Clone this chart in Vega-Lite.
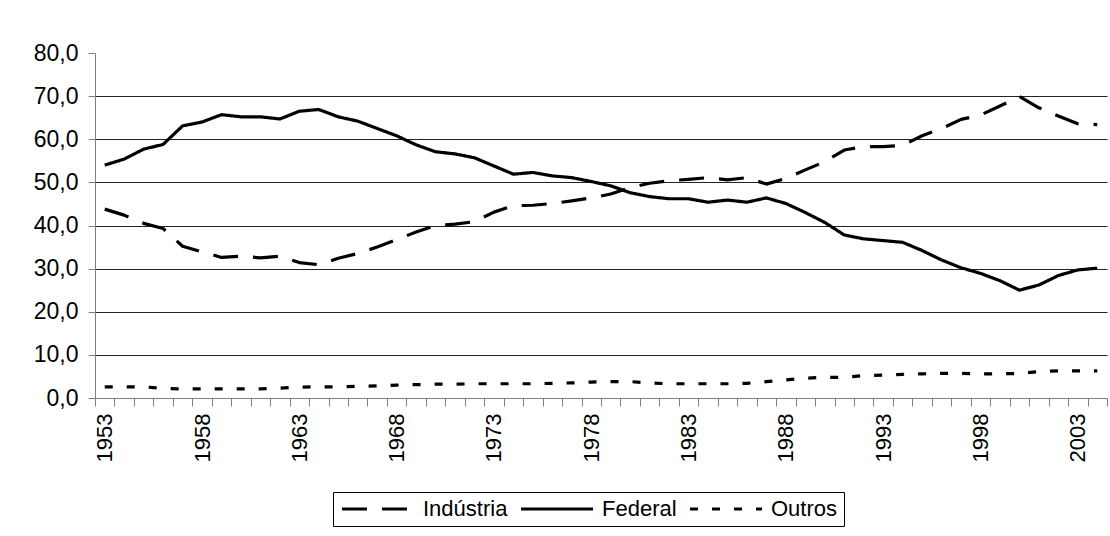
{
  "$schema": "https://vega.github.io/schema/vega-lite/v6.json",
  "autosize": {"type": "none"},
  "padding": {"left": 95, "top": 53, "right": 3, "bottom": 138},
  "width": 1012,
  "height": 345,
  "background": "white",
  "config": {
    "font": "Liberation Sans",
    "view": {"stroke": null},
    "axis": {"labelFont": "Liberation Sans", "labelColor": "black"}
  },
  "data": {
    "values": [
      {"ano": 1953, "Indústria": 43.8, "Federal": 54.0, "Outros": 2.6},
      {"ano": 1954, "Indústria": 42.4, "Federal": 55.4, "Outros": 2.6},
      {"ano": 1955, "Indústria": 40.5, "Federal": 57.7, "Outros": 2.6},
      {"ano": 1956, "Indústria": 39.3, "Federal": 58.8, "Outros": 2.2},
      {"ano": 1957, "Indústria": 35.2, "Federal": 63.1, "Outros": 2.1},
      {"ano": 1958, "Indústria": 33.9, "Federal": 64.0, "Outros": 2.1},
      {"ano": 1959, "Indústria": 32.6, "Federal": 65.7, "Outros": 2.1},
      {"ano": 1960, "Indústria": 32.9, "Federal": 65.2, "Outros": 2.1},
      {"ano": 1961, "Indústria": 32.5, "Federal": 65.2, "Outros": 2.1},
      {"ano": 1962, "Indústria": 32.9, "Federal": 64.7, "Outros": 2.3},
      {"ano": 1963, "Indústria": 31.4, "Federal": 66.5, "Outros": 2.5},
      {"ano": 1964, "Indústria": 30.9, "Federal": 66.9, "Outros": 2.6},
      {"ano": 1965, "Indústria": 32.4, "Federal": 65.2, "Outros": 2.6},
      {"ano": 1966, "Indústria": 33.5, "Federal": 64.2, "Outros": 2.7},
      {"ano": 1967, "Indústria": 35.0, "Federal": 62.5, "Outros": 2.8},
      {"ano": 1968, "Indústria": 36.7, "Federal": 60.8, "Outros": 3.0},
      {"ano": 1969, "Indústria": 38.5, "Federal": 58.7, "Outros": 3.1},
      {"ano": 1970, "Indústria": 40.0, "Federal": 57.1, "Outros": 3.2},
      {"ano": 1971, "Indústria": 40.3, "Federal": 56.6, "Outros": 3.2},
      {"ano": 1972, "Indústria": 40.9, "Federal": 55.7, "Outros": 3.3},
      {"ano": 1973, "Indústria": 43.1, "Federal": 53.8, "Outros": 3.3},
      {"ano": 1974, "Indústria": 44.6, "Federal": 51.9, "Outros": 3.3},
      {"ano": 1975, "Indústria": 44.7, "Federal": 52.3, "Outros": 3.3},
      {"ano": 1976, "Indústria": 45.1, "Federal": 51.5, "Outros": 3.4},
      {"ano": 1977, "Indústria": 45.7, "Federal": 51.1, "Outros": 3.5},
      {"ano": 1978, "Indústria": 46.4, "Federal": 50.2, "Outros": 3.7},
      {"ano": 1979, "Indústria": 47.3, "Federal": 49.2, "Outros": 3.8},
      {"ano": 1980, "Indústria": 48.8, "Federal": 47.6, "Outros": 3.8},
      {"ano": 1981, "Indústria": 49.8, "Federal": 46.7, "Outros": 3.5},
      {"ano": 1982, "Indústria": 50.4, "Federal": 46.2, "Outros": 3.3},
      {"ano": 1983, "Indústria": 50.7, "Federal": 46.2, "Outros": 3.3},
      {"ano": 1984, "Indústria": 51.1, "Federal": 45.4, "Outros": 3.3},
      {"ano": 1985, "Indústria": 50.6, "Federal": 45.9, "Outros": 3.3},
      {"ano": 1986, "Indústria": 51.1, "Federal": 45.4, "Outros": 3.4},
      {"ano": 1987, "Indústria": 49.6, "Federal": 46.4, "Outros": 3.8},
      {"ano": 1988, "Indústria": 50.9, "Federal": 45.1, "Outros": 4.2},
      {"ano": 1989, "Indústria": 52.9, "Federal": 43.0, "Outros": 4.6},
      {"ano": 1990, "Indústria": 54.8, "Federal": 40.7, "Outros": 4.8},
      {"ano": 1991, "Indústria": 57.5, "Federal": 37.8, "Outros": 4.8},
      {"ano": 1992, "Indústria": 58.3, "Federal": 36.9, "Outros": 5.2},
      {"ano": 1993, "Indústria": 58.3, "Federal": 36.5, "Outros": 5.3},
      {"ano": 1994, "Indústria": 58.6, "Federal": 36.1, "Outros": 5.5},
      {"ano": 1995, "Indústria": 60.8, "Federal": 34.2, "Outros": 5.6},
      {"ano": 1996, "Indústria": 62.5, "Federal": 32.0, "Outros": 5.7},
      {"ano": 1997, "Indústria": 64.6, "Federal": 30.2, "Outros": 5.7},
      {"ano": 1998, "Indústria": 65.6, "Federal": 28.9, "Outros": 5.6},
      {"ano": 1999, "Indústria": 67.7, "Federal": 27.2, "Outros": 5.6},
      {"ano": 2000, "Indústria": 69.9, "Federal": 25.0, "Outros": 5.7},
      {"ano": 2001, "Indústria": 67.3, "Federal": 26.2, "Outros": 6.1},
      {"ano": 2002, "Indústria": 65.4, "Federal": 28.4, "Outros": 6.3},
      {"ano": 2003, "Indústria": 63.6, "Federal": 29.7, "Outros": 6.3},
      {"ano": 2004, "Indústria": 63.4, "Federal": 30.1, "Outros": 6.3}
    ]
  },
  "transform": [
    {"fold": ["Indústria", "Federal", "Outros"], "as": ["serie", "valor"]}
  ],
  "mark": {"type": "line", "color": "black", "strokeWidth": 3.2, "strokeCap": "butt", "strokeJoin": "round"},
  "encoding": {
    "x": {
      "field": "ano",
      "type": "ordinal",
      "bandPosition": 0.5,
      "scale": {"type": "band", "paddingInner": 0, "paddingOuter": 0},
      "axis": {
        "title": null,
        "tickBand": "extent",
        "labelAngle": -90,
        "labelFontSize": 22,
        "labelExpr": "(datum.value - 1953) % 5 === 0 ? datum.label : ''",
        "domainColor": "#808080",
        "tickColor": "#808080",
        "tickSize": 8,
        "labelPadding": 7,
        "grid": false
      }
    },
    "y": {
      "field": "valor",
      "type": "quantitative",
      "scale": {"domain": [0, 80], "nice": false, "zero": true},
      "axis": {
        "title": null,
        "values": [0, 10, 20, 30, 40, 50, 60, 70, 80],
        "labelExpr": "replace(format(datum.value, '.1f'), '.', ',')",
        "labelFontSize": 23,
        "domainColor": "#808080",
        "tickColor": "#808080",
        "tickSize": 7,
        "labelPadding": 10,
        "grid": true,
        "gridColor": "#222222",
        "gridWidth": 1,
        "gridOpacity": {"condition": {"test": "datum.value === 80 || datum.value === 0", "value": 0}, "value": 1}
      }
    },
    "strokeDash": {
      "field": "serie",
      "type": "nominal",
      "scale": {
        "domain": ["Indústria", "Federal", "Outros"],
        "range": [[25, 15], [1, 0], [8, 14]]
      },
      "legend": {
        "title": null,
        "orient": "none",
        "legendX": 238,
        "legendY": 439,
        "direction": "horizontal",
        "symbolType": "M-4.5,0L4.5,0",
        "symbolSize": 256,
        "symbolOffset": 28,
        "symbolStrokeWidth": 3.2,
        "symbolStrokeColor": "black",
        "symbolFillColor": "transparent",
        "labelFontSize": 22,
        "labelFont": "Liberation Sans",
        "labelColor": "black",
        "labelOffset": 34,
        "columnPadding": 6,
        "padding": 6,
        "strokeColor": "black",
        "fillColor": "white"
      }
    }
  }
}
